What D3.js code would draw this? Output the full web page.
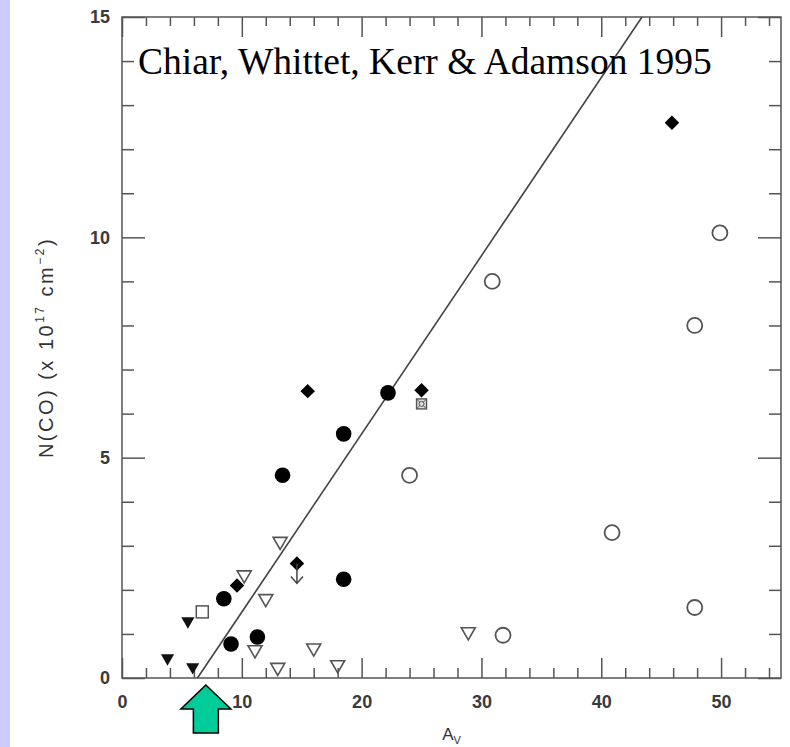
<!DOCTYPE html>
<html lang="en">
<head>
    <meta charset="UTF-8">
    <title>N(CO) vs Av</title>
    <script src="https://cdn.jsdelivr.net/npm/d3@7"></script>
    <style>
        body { margin: 0; background: #fff; }
        svg { display: block; }
        .tick text { font-family: "Liberation Sans", Arial, sans-serif; fill: #3a3a3a; font-weight: bold; }
    </style>
</head>
<body>
<script>
    // x = A_v, y = N(CO) in 1e17 cm^-2
    var filledCircles = [[8.5, 1.8], [9.1, 0.77], [11.3, 0.93], [13.4, 4.6], [18.5, 5.54], [22.2, 6.47], [18.5, 2.24]];
    var filledDiamonds = [[9.6, 2.1], [15.5, 6.51], [25.0, 6.53], [45.9, 12.6]];
    var limitDiamonds = [[14.6, 2.6]];
    var openCircles = [[24.0, 4.6], [30.9, 9.0], [31.8, 0.97], [40.9, 3.3], [47.8, 8.0], [49.9, 10.1], [47.8, 1.6]];
    var openTriangles = [[10.2, 2.34], [13.2, 3.1], [12.0, 1.8], [11.1, 0.64], [13.0, 0.24], [16.0, 0.68], [18.0, 0.3], [28.9, 1.05]];
    var filledTriangles = [[3.8, 0.45], [5.5, 1.29], [5.9, 0.25]];
    var openSquares = [[6.7, 1.5]];
    var crossedSquares = [[25.0, 6.22]];
    var fitLine = [[6.3, 0], [43.4, 15]];
    var arrowAt = 7.0; // green arrow marks this A_v

    var xTickLabels = [0, 10, 20, 30, 40, 50];
    var yTickLabels = [0, 5, 10, 15];
    var xMinor = d3.range(2, 55, 2).filter(function (v) { return v % 10 !== 0; });
    var yMinor = d3.range(1, 15, 1).filter(function (v) { return v % 5 !== 0; });

    var W = 790, H = 747;
    var pLeft = 122, pRight = 781, pTop = 17, pBottom = 678;
    var axisColor = "#555";

    var svg = d3.select("body").append("svg")
        .attr("width", W)
        .attr("height", H);

    // lavender strip on the left edge
    svg.append("rect")
        .attr("x", 0).attr("y", 0)
        .attr("width", 10).attr("height", H)
        .style("fill", "#ccccff");

    var x = d3.scaleLinear().domain([0, 55]).range([pLeft, pRight]);
    var y = d3.scaleLinear().domain([0, 15]).range([pBottom, pTop]);

    function styleAxis(g) {
        g.select(".domain").remove();
        g.selectAll(".tick line").style("stroke", axisColor).style("stroke-width", 1.5);
    }

    // bottom axis: minor + labelled major ticks, pointing inward
    svg.append("g").attr("transform", "translate(0," + pBottom + ")")
        .call(d3.axisBottom(x).tickValues(xMinor).tickSize(-10).tickFormat(""))
        .call(styleAxis);
    svg.append("g").attr("transform", "translate(0," + pBottom + ")")
        .call(d3.axisBottom(x).tickValues(xTickLabels).tickSize(-20).tickPadding(17))
        .call(styleAxis)
        .selectAll("text").style("font-size", "18px");

    // top axis
    svg.append("g").attr("transform", "translate(0," + pTop + ")")
        .call(d3.axisTop(x).tickValues(xMinor).tickSize(-9).tickFormat(""))
        .call(styleAxis);
    svg.append("g").attr("transform", "translate(0," + pTop + ")")
        .call(d3.axisTop(x).tickValues(xTickLabels).tickSize(-20).tickFormat(""))
        .call(styleAxis);

    // left axis
    svg.append("g").attr("transform", "translate(" + pLeft + ",0)")
        .call(d3.axisLeft(y).tickValues(yMinor).tickSize(-12).tickFormat(""))
        .call(styleAxis);
    svg.append("g").attr("transform", "translate(" + pLeft + ",0)")
        .call(d3.axisLeft(y).tickValues(yTickLabels).tickSize(-23).tickPadding(12))
        .call(styleAxis)
        .selectAll("text").style("font-size", "18px");

    // right axis
    svg.append("g").attr("transform", "translate(" + pRight + ",0)")
        .call(d3.axisRight(y).tickValues(yMinor).tickSize(-12).tickFormat(""))
        .call(styleAxis);
    svg.append("g").attr("transform", "translate(" + pRight + ",0)")
        .call(d3.axisRight(y).tickValues(yTickLabels).tickSize(-23).tickFormat(""))
        .call(styleAxis);

    // frame
    svg.append("rect")
        .attr("x", pLeft).attr("y", pTop)
        .attr("width", pRight - pLeft).attr("height", pBottom - pTop)
        .style("fill", "none")
        .style("stroke", axisColor)
        .style("stroke-width", 1.5);

    // fitted line
    svg.append("line")
        .attr("x1", x(fitLine[0][0])).attr("y1", y(fitLine[0][1]))
        .attr("x2", x(fitLine[1][0])).attr("y2", y(fitLine[1][1]))
        .style("stroke", "#444")
        .style("stroke-width", 1.6);

    function pos(d) { return "translate(" + x(d[0]) + "," + y(d[1]) + ")"; }

    // open inverted triangles (drawn first, the circles sit on top)
    svg.append("g").selectAll("path")
        .data(openTriangles).enter().append("path")
        .attr("transform", function (d) { return pos(d) + " rotate(180)"; })
        .attr("d", d3.symbol().type(d3.symbolTriangle).size(85))
        .style("fill", "none").style("stroke", "#555").style("stroke-width", 1.6);

    svg.append("g").selectAll("path")
        .data(filledTriangles).enter().append("path")
        .attr("transform", function (d) { return pos(d) + " rotate(180)"; })
        .attr("d", d3.symbol().type(d3.symbolTriangle).size(75))
        .style("fill", "#111");

    svg.append("g").selectAll("rect")
        .data(openSquares).enter().append("rect")
        .attr("x", function (d) { return x(d[0]) - 6; })
        .attr("y", function (d) { return y(d[1]) - 6; })
        .attr("width", 12).attr("height", 12)
        .style("fill", "none").style("stroke", "#555").style("stroke-width", 1.5);

    var cross = svg.append("g").selectAll("g")
        .data(crossedSquares).enter().append("g")
        .attr("transform", pos);
    cross.append("rect")
        .attr("x", -5).attr("y", -5).attr("width", 10).attr("height", 10)
        .style("fill", "#ddd").style("stroke", "#555").style("stroke-width", 1.4);
    cross.append("path")
        .attr("d", "M-5,-5L5,5M5,-5L-5,5")
        .style("stroke", "#555").style("stroke-width", 1);
    cross.append("circle")
        .attr("r", 2.5)
        .style("fill", "#ddd").style("stroke", "#555").style("stroke-width", 1);

    svg.append("g").selectAll("circle")
        .data(openCircles).enter().append("circle")
        .attr("cx", function (d) { return x(d[0]); })
        .attr("cy", function (d) { return y(d[1]); })
        .attr("r", 7.5)
        .style("fill", "none").style("stroke", "#555").style("stroke-width", 1.8);

    svg.append("g").selectAll("circle")
        .data(filledCircles).enter().append("circle")
        .attr("cx", function (d) { return x(d[0]); })
        .attr("cy", function (d) { return y(d[1]); })
        .attr("r", 7.8)
        .style("fill", "#000");

    svg.append("g").selectAll("path")
        .data(filledDiamonds.concat(limitDiamonds)).enter().append("path")
        .attr("transform", function (d) { return pos(d) + " rotate(45)"; })
        .attr("d", d3.symbol().type(d3.symbolSquare).size(105))
        .style("fill", "#000");

    // upper-limit arrow below the diamond
    svg.append("g").selectAll("path")
        .data(limitDiamonds).enter().append("path")
        .attr("transform", pos)
        .attr("d", "M0,0L0,20M-6,13L0,20L6,13")
        .style("fill", "none").style("stroke", "#444").style("stroke-width", 1.5);

    // author annotation
    svg.append("text")
        .attr("x", 138).attr("y", 74)
        .style("font-family", "'Liberation Serif', 'Times New Roman', serif")
        .style("font-size", "37.5px")
        .style("fill", "#000")
        .text("Chiar, Whittet, Kerr & Adamson 1995");

    // axis titles
    var yt = svg.append("text")
        .attr("transform", "translate(53," + ((pTop + pBottom) / 2) + ") rotate(-90)")
        .attr("text-anchor", "middle")
        .style("font-family", "'Liberation Sans', Arial, sans-serif")
        .style("font-size", "20px")
        .style("letter-spacing", "2.5px")
        .style("fill", "#333");
    yt.append("tspan").text("N(CO) (x 10");
    yt.append("tspan").attr("dy", -9).style("font-size", "12px").text("17");
    yt.append("tspan").attr("dy", 9).text(" cm");
    yt.append("tspan").attr("dy", -9).style("font-size", "12px").text("\u22122");
    yt.append("tspan").attr("dy", 9).text(")");

    var xt = svg.append("text")
        .attr("x", (pLeft + pRight) / 2).attr("y", 740)
        .attr("text-anchor", "middle")
        .style("font-family", "'Liberation Sans', Arial, sans-serif")
        .style("font-size", "17px")
        .style("fill", "#333");
    xt.append("tspan").text("A");
    xt.append("tspan").attr("dy", 4).style("font-size", "11px").text("V");

    // green arrow pointing up at the axis
    var ax = x(arrowAt);
    var arrowPts = [[0, 0], [25, 24], [12.5, 24], [12.5, 48], [-12.5, 48], [-12.5, 24], [-25, 24]];
    svg.append("path")
        .attr("transform", "translate(" + ax + "," + (pBottom + 7) + ")")
        .attr("d", d3.line()(arrowPts) + "Z")
        .style("fill", "#00cc99")
        .style("stroke", "#000")
        .style("stroke-width", 1.5);
</script>
</body>
</html>
